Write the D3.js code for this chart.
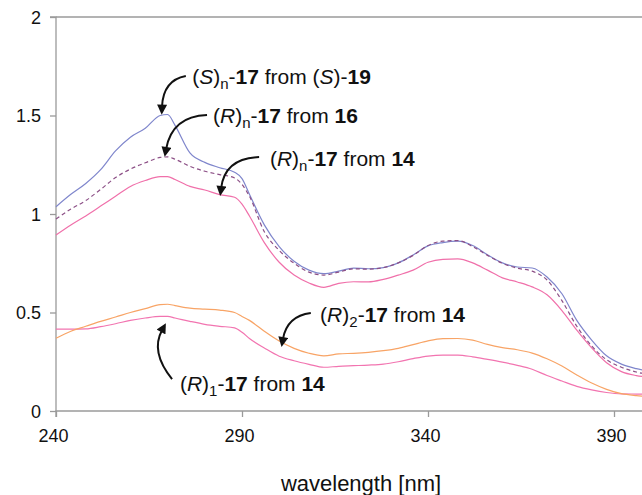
<!DOCTYPE html>
<html>
<head>
<meta charset="utf-8">
<script src="https://cdn.jsdelivr.net/npm/d3@7"></script>
<style>
  html, body { margin: 0; padding: 0; background: #fff; }
  svg { display: block; }
  text { font-family: "Liberation Sans", Arial, Helvetica, sans-serif; }
</style>
</head>
<body>
<svg id="chart" width="642" height="495"></svg>
<script>
// ---- data ----
const wavelengths = [240,244,248,252,256,260,264,268,270,272,276,280,284,288,290,292,296,300,304,308,312,316,320,324,328,332,336,340,344,348,352,356,360,364,368,372,376,380,384,388,392,396,400];

const sn_from_S19 = [1.037,1.10,1.155,1.225,1.32,1.39,1.435,1.50,1.505,1.45,1.31,1.262,1.235,1.212,1.18,1.10,0.945,0.835,0.76,0.715,0.697,0.71,0.725,0.722,0.728,0.752,0.792,0.838,0.855,0.862,0.84,0.793,0.752,0.731,0.726,0.68,0.595,0.46,0.36,0.28,0.238,0.215,0.20];

const rn_from_16 = [0.975,1.025,1.068,1.125,1.185,1.228,1.26,1.287,1.29,1.278,1.242,1.217,1.2,1.183,1.15,1.09,0.91,0.815,0.75,0.705,0.69,0.705,0.722,0.72,0.728,0.752,0.79,0.84,0.862,0.865,0.835,0.79,0.75,0.725,0.71,0.665,0.56,0.43,0.33,0.26,0.222,0.198,0.185];

const rn_from_14 = [0.893,0.944,0.99,1.04,1.09,1.14,1.17,1.19,1.19,1.175,1.14,1.122,1.098,1.085,1.05,0.99,0.855,0.755,0.69,0.65,0.628,0.648,0.656,0.655,0.668,0.69,0.715,0.755,0.77,0.772,0.752,0.715,0.676,0.655,0.63,0.59,0.51,0.41,0.32,0.245,0.20,0.18,0.17];

const r2_from_14 = [0.369,0.405,0.43,0.455,0.477,0.50,0.52,0.54,0.542,0.535,0.522,0.517,0.512,0.50,0.48,0.46,0.405,0.355,0.318,0.293,0.28,0.29,0.293,0.298,0.306,0.318,0.337,0.356,0.367,0.368,0.36,0.338,0.322,0.311,0.294,0.265,0.228,0.183,0.142,0.11,0.088,0.078,0.072];

const r1_from_14 = [0.416,0.416,0.417,0.428,0.443,0.46,0.472,0.48,0.48,0.472,0.455,0.44,0.43,0.422,0.40,0.368,0.32,0.278,0.255,0.237,0.222,0.227,0.23,0.233,0.238,0.25,0.266,0.279,0.284,0.284,0.275,0.262,0.248,0.232,0.212,0.18,0.152,0.125,0.107,0.094,0.087,0.086,0.085];

const xTicks = [240, 290, 340, 390];
const yTicks = [0, 0.5, 1, 1.5, 2];
const xTitle = "wavelength [nm]";

// ---- layout ----
const svg = d3.select("#chart");
const padLeft = 56, padTop = 17, padBottom = 411;
const x = d3.scaleLinear().domain([240, 400]).range([padLeft, padLeft + 160 * 3.72]);
const y = d3.scaleLinear().domain([0, 2]).range([padBottom, padTop]);
const axisColor = "#9a9a9a";

// top frame line
svg.append("line")
  .attr("x1", x(240)).attr("x2", x(400))
  .attr("y1", y(2)).attr("y2", y(2))
  .attr("stroke", axisColor).attr("stroke-width", 1.3);

// y axis
const yAxis = svg.append("g")
  .attr("transform", `translate(${padLeft},0)`)
  .call(d3.axisLeft(y).tickValues(yTicks).tickFormat(d3.format("")).tickSize(6).tickPadding(9));
// x axis
const xAxis = svg.append("g")
  .attr("transform", `translate(0,${padBottom})`)
  .call(d3.axisBottom(x).tickValues(xTicks).tickSize(6).tickPadding(12));

[xAxis, yAxis].forEach(g => {
  g.selectAll("path, line").attr("stroke", axisColor).attr("stroke-width", 1.3);
  g.selectAll("text").attr("fill", "#111").attr("font-size", 18)
    .attr("font-family", "'Liberation Sans', Arial, Helvetica, sans-serif");
});
yAxis.selectAll("text").attr("dy", "0.35em");
xAxis.selectAll("text").attr("dx", -3);
xAxis.select(".domain").attr("d", `M${x(240)},6V0H${x(400)}`);
yAxis.select(".domain").attr("d", `M-6,${y(2)}H0V${y(0)}`);

// x title
svg.append("text")
  .attr("x", 361).attr("y", 491)
  .attr("text-anchor", "middle")
  .attr("font-size", 22).attr("fill", "#111")
  .text(xTitle);

// ---- lines ----
const line = d3.line()
  .x((d, i) => x(wavelengths[i]))
  .y(d => y(d))
  .curve(d3.curveMonotoneX);

const series = [
  {vals: r1_from_14, color: "#f274b0", dash: null},
  {vals: r2_from_14, color: "#f8a466", dash: null},
  {vals: rn_from_14, color: "#f070aa", dash: null},
  {vals: sn_from_S19, color: "#7f86cc", dash: null},
  {vals: rn_from_16, color: "#8c4f86", dash: "4,3"}
];
series.forEach(s => {
  svg.append("path")
    .attr("d", line(s.vals))
    .attr("fill", "none")
    .attr("stroke", s.color)
    .attr("stroke-width", 1.2)
    .attr("stroke-dasharray", s.dash);
});

// ---- annotations ----
svg.append("defs").append("marker")
  .attr("id", "ah").attr("viewBox", "0 0 10 10")
  .attr("refX", 2).attr("refY", 5)
  .attr("markerWidth", 5.5).attr("markerHeight", 5)
  .attr("markerUnits", "strokeWidth")
  .attr("orient", "auto")
  .append("path").attr("d", "M0,0L10,5L0,10z").attr("fill", "#111");

// arrows in data coordinates: start, control, tip
const arrows = [
  [[274.9,1.701],[268.8,1.680],[268.5,1.545]],
  [[280.6,1.503],[271.2,1.497],[269.6,1.330]],
  [[294.6,1.289],[285.4,1.284],[284.4,1.132]],
  [[308.5,0.497],[302.1,0.482],[301.0,0.365]],
  [[271.2,0.162],[265.3,0.300],[268.5,0.410]]
];
arrows.forEach(a => {
  const p = a.map(d => [x(d[0]), y(d[1])]);
  svg.append("path")
    .attr("d", `M${p[0][0]},${p[0][1]}Q${p[1][0]},${p[1][1]} ${p[2][0]},${p[2][1]}`)
    .attr("fill", "none").attr("stroke", "#111").attr("stroke-width", 2)
    .attr("marker-end", "url(#ah)");
});

// labels: [nm, value, parts]; parts: [text, style]
const labels = [
  [276.6, 1.66, [["(",""],["S","i"],[")",""],["n","sub"],["-",""],["17","b"],[" from (",""],["S","i"],[")-",""],["19","b"]]],
  [282.2, 1.462, [["(",""],["R","i"],[")",""],["n","sub"],["-",""],["17","b"],[" from ",""],["16","b"]]],
  [297.5, 1.244, [["(",""],["R","i"],[")",""],["n","sub"],["-",""],["17","b"],[" from ",""],["14","b"]]],
  [311.0, 0.452, [["(",""],["R","i"],[")",""],["2","sub"],["-",""],["17","b"],[" from ",""],["14","b"]]],
  [273.3, 0.102, [["(",""],["R","i"],[")",""],["1","sub"],["-",""],["17","b"],[" from ",""],["14","b"]]]
];
labels.forEach(l => {
  const t = svg.append("text")
    .attr("x", x(l[0])).attr("y", y(l[1]))
    .attr("font-size", 21).attr("fill", "#111");
  let shifted = false;
  l[2].forEach(([str, st]) => {
    const ts = t.append("tspan").text(str);
    if (st === "i") ts.attr("font-style", "italic");
    if (st === "b") ts.attr("font-weight", "bold");
    if (st === "sub") { ts.attr("font-size", 15).attr("dy", 5); shifted = true; }
    else if (shifted) { ts.attr("dy", -5); shifted = false; }
  });
});
</script>
</body>
</html>
